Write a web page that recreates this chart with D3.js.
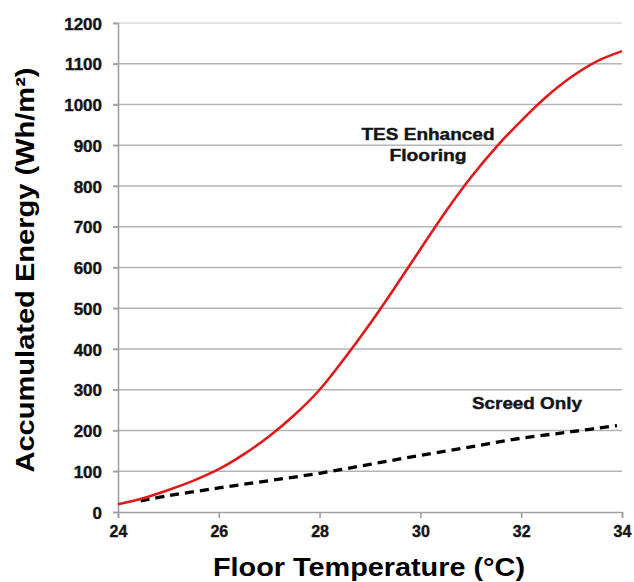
<!DOCTYPE html>
<html>
<head>
<meta charset="utf-8">
<script src="https://cdn.jsdelivr.net/npm/d3@7"></script>
<style>
  html, body { margin: 0; padding: 0; background: #fff; }
  svg { display: block; font-family: "Liberation Sans", Arial, sans-serif; font-weight: bold; }
</style>
</head>
<body>
<svg id="chart" width="634" height="582"></svg>
<script>
// ---- data ----
const xTicks = [24, 26, 28, 30, 32, 34];
const yTicks = [0, 100, 200, 300, 400, 500, 600, 700, 800, 900, 1000, 1100, 1200];

const tesTemp   = [24, 24.5, 25, 25.5, 26, 26.5, 27, 27.5, 28, 28.5, 29, 29.5, 30, 30.5, 31, 31.5, 32, 32.5, 33, 33.5, 34];
const tesEnergy = [19, 34, 54, 77, 105, 142, 186, 238, 300, 378, 462, 552, 645, 737, 821, 895, 960, 1019, 1068, 1106, 1131];

const screedTemp   = [24.45, 25, 26, 27, 28, 29, 30, 31, 32, 33, 33.9];
const screedEnergy = [27, 40, 59, 77, 95, 117, 139, 160, 181, 197, 212];

const xTitle = "Floor Temperature (°C)";
const yTitle = "Accumulated Energy (Wh/m²)";
const tesLabel = ["TES Enhanced", "Flooring"];
const screedLabel = "Screed Only";

// ---- chart ----
const svg = d3.select("#chart");
const x = d3.scaleLinear().domain([24, 34]).range([118, 622]);
const y = d3.scaleLinear().domain([0, 1200]).range([512, 23]);

const txt = sel => sel.attr("font-weight", "bold").attr("fill", "#141414")
  .attr("stroke", "#141414").attr("stroke-width", 0.4)
  .attr("font-family", "Liberation Sans, Arial, sans-serif");

// gridlines
svg.append("g")
  .selectAll("line").data(yTicks.filter(d => d > 0)).join("line")
  .attr("x1", x(24) - 5).attr("x2", x(34))
  .attr("y1", d => y(d)).attr("y2", d => y(d))
  .attr("stroke", d => d === 1200 ? "#d8d8d8" : "#b4b4b4")
  .attr("stroke-width", 1.6);

// y axis
const yAxis = svg.append("g").attr("transform", `translate(${x(24)},0)`)
  .call(d3.axisLeft(y).tickValues(yTicks).tickFormat(d3.format("d")).tickSize(5).tickPadding(11));
yAxis.select(".domain").attr("stroke", "#a0a0a0").attr("stroke-width", 1.6);
yAxis.selectAll(".tick line").attr("stroke", "#a0a0a0").attr("stroke-width", 1.6);
yAxis.selectAll(".tick text").attr("font-size", 17).attr("dy", "0.36em").call(txt);

// x axis
const xAxis = svg.append("g").attr("transform", `translate(0,${y(0)})`)
  .call(d3.axisBottom(x).tickValues(xTicks).tickFormat(d3.format("d")).tickSize(6).tickPadding(8));
xAxis.select(".domain").attr("stroke", "#a0a0a0").attr("stroke-width", 1.6);
xAxis.selectAll(".tick line").attr("stroke", "#a0a0a0").attr("stroke-width", 1.6);
xAxis.selectAll(".tick text").attr("font-size", 16).call(txt);

// lines
const line = d3.line().x(d => x(d[0])).y(d => y(d[1])).curve(d3.curveCatmullRom.alpha(0.5));

svg.append("path")
  .datum(screedTemp.map((t, i) => [t, screedEnergy[i]]))
  .attr("d", line)
  .attr("fill", "none").attr("stroke", "#000").attr("stroke-width", 3.3)
  .attr("stroke-dasharray", "9,6");

svg.append("path")
  .datum(tesTemp.map((t, i) => [t, tesEnergy[i]]))
  .attr("d", line)
  .attr("fill", "none").attr("stroke", "#e01a1a").attr("stroke-width", 2.6);

// annotations
svg.append("text").attr("x", 428).attr("y", 140).attr("text-anchor", "middle")
  .attr("font-size", 16).call(txt)
  .attr("textLength", 133).attr("lengthAdjust", "spacingAndGlyphs")
  .text(tesLabel[0]);
svg.append("text").attr("x", 428).attr("y", 161).attr("text-anchor", "middle")
  .attr("font-size", 16).call(txt)
  .attr("textLength", 77).attr("lengthAdjust", "spacingAndGlyphs")
  .text(tesLabel[1]);
svg.append("text").attr("x", 527).attr("y", 409).attr("text-anchor", "middle")
  .attr("font-size", 16).call(txt)
  .attr("textLength", 110).attr("lengthAdjust", "spacingAndGlyphs")
  .text(screedLabel);

// axis titles
svg.append("text").attr("x", 369).attr("y", 576).attr("text-anchor", "middle")
  .attr("font-size", 26).attr("font-weight", "bold").attr("fill", "#000")
  .attr("textLength", 312).attr("lengthAdjust", "spacingAndGlyphs")
  .text(xTitle);

svg.append("text")
  .attr("transform", "translate(34,270) rotate(-90)")
  .attr("text-anchor", "middle")
  .attr("font-size", 26).attr("font-weight", "bold").attr("fill", "#000")
  .attr("textLength", 405).attr("lengthAdjust", "spacingAndGlyphs")
  .text(yTitle);
</script>
</body>
</html>
